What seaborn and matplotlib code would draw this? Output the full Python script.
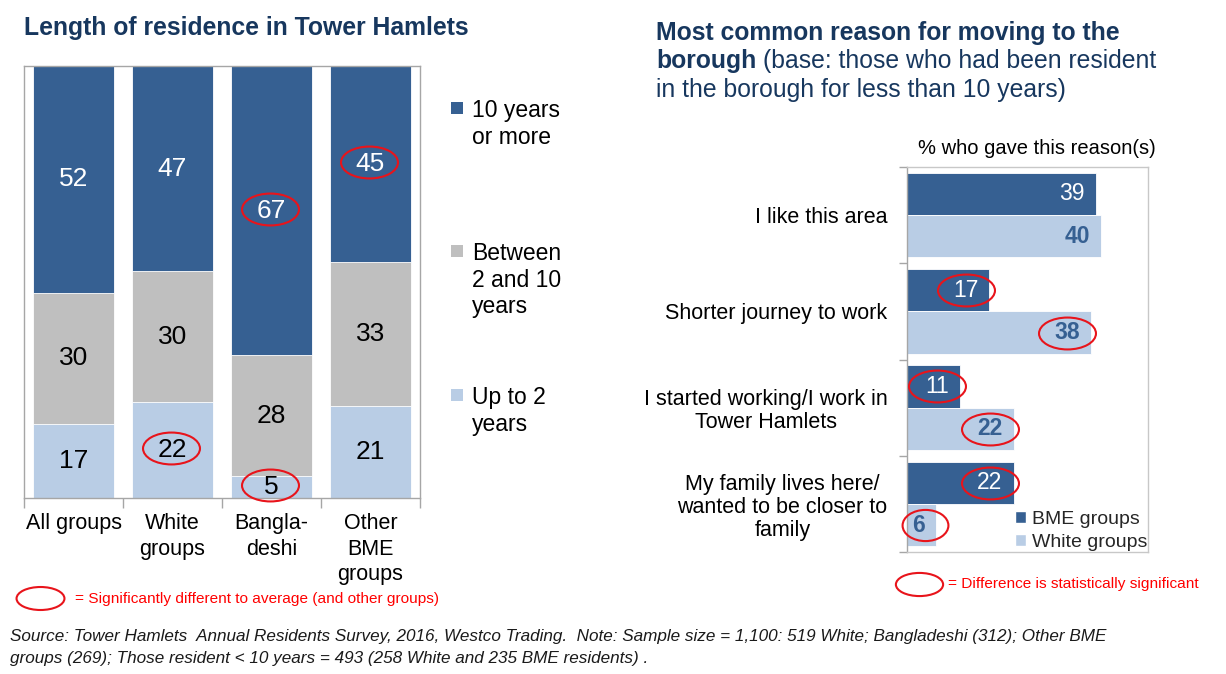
import matplotlib
matplotlib.use("Agg")
import matplotlib.pyplot as plt
from matplotlib.path import Path
from matplotlib.transforms import Affine2D
from matplotlib.patches import Rectangle, Patch
import seaborn as sns
import pandas as pd

sns.set_theme(style="white")
plt.rcParams["font.family"] = ["Liberation Sans", "DejaVu Sans"]

# ---- Length of residence in Tower Hamlets (percent of each group) ----
groups = ["All groups", "White\ngroups", "Bangla-\ndeshi", "Other\nBME\ngroups"]
up_to_2 = [17, 22, 5, 21]
between_2_10 = [30, 30, 28, 33]
ten_plus = [52, 47, 67, 45]
band_labels = ["10 years\nor more", "Between\n2 and 10\nyears", "Up to 2\nyears"]
# cells that differ significantly from the average: (band, group index)
residence_sig = [("up", 1), ("up", 2), ("top", 2), ("top", 3)]

# ---- Most common reason for moving to the borough ----
reasons = ["I like this area", "Shorter journey to work",
           "I started working/I work in\nTower Hamlets",
           "My family lives here/\nwanted to be closer to\nfamily"]
bme_pct = [39, 17, 11, 22]
white_pct = [40, 38, 22, 6]
reason_groups = ["BME groups", "White groups"]
bme_sig = [False, True, True, True]
white_sig = [False, True, True, True]

DARK = "#366092"
GREY = "#BFBFBF"
LIGHT = "#B9CDE5"
NAVY = "#17375E"
RED = "#E8141B"
FRAME = "#A6A6A6"

W, H = 1226, 674
fig = plt.figure(figsize=(W / 100, H / 100), dpi=100)


def px_axes(x0, y0, x1, y1):
    return fig.add_axes([x0 / W, 1 - y1 / H, (x1 - x0) / W, (y1 - y0) / H])


def ellipse_path(ratio):
    return Path.unit_circle().transformed(Affine2D().scale(1.0, ratio))


# ================= left: 100% stacked columns =================
ax1 = px_axes(24, 66, 420, 498)
res = pd.DataFrame({"group": groups, "up": up_to_2, "mid": between_2_10, "top": ten_plus})
total = res[["up", "mid", "top"]].sum(axis=1)
res["c_up"] = res["up"] / total * 100
res["c_mid"] = (res["up"] + res["mid"]) / total * 100
res["c_top"] = (res["up"] + res["mid"] + res["top"]) / total * 100

for col, colr in [("c_top", DARK), ("c_mid", GREY), ("c_up", LIGHT)]:
    sns.barplot(data=res, x="group", y=col, color=colr, width=0.82, errorbar=None,
                saturation=1, ax=ax1, edgecolor="white", linewidth=0.6)

ax1.set_xlim(-0.5, 3.5)
ax1.set_ylim(0, 100)
ax1.set_xlabel("")
ax1.set_ylabel("")
ax1.set_yticks([])
ax1.set_xticks(range(len(groups)))
ax1.set_xticklabels(groups, fontsize=15.5, color="black", linespacing=1.27)
ax1.set_xticks([i - 0.5 for i in range(len(groups) + 1)], minor=True)
ax1.tick_params(axis="x", which="major", length=0, pad=11)
ax1.tick_params(axis="x", which="minor", length=7, width=1, color=FRAME, direction="out", bottom=True)
for sp in ax1.spines.values():
    sp.set_color(FRAME)
    sp.set_linewidth(1)

seg_text = {}
for i in range(len(groups)):
    lo = 0.0
    for key, ckey, tcol in [("up", "c_up", "black"), ("mid", "c_mid", "black"), ("top", "c_top", "white")]:
        hi = res.loc[i, ckey]
        seg_text[(key, i)] = ax1.text(i, (lo + hi) / 2, str(res.loc[i, key]), ha="center", va="center",
                                      fontsize=19, color=tcol)
        lo = hi

# left legend
legend_rows = [(108, band_labels[0], DARK), (251, band_labels[1], GREY), (395, band_labels[2], LIGHT)]
for y, lab, c in legend_rows:
    fig.patches.append(Rectangle((451 / W, 1 - (y + 6) / H), 12 / W, 12 / H,
                                 transform=fig.transFigure, facecolor=c, edgecolor="none"))
    fig.text(472 / W, 1 - (y - 9) / H, lab, fontsize=16.5, color="black", va="top", ha="left",
             linespacing=1.2)

# ================= right: grouped horizontal bars =================
ax2 = px_axes(907, 167, 1148, 552)
long = pd.DataFrame({
    "reason": reasons * 2,
    "pct": bme_pct + white_pct,
    "group": [reason_groups[0]] * len(reasons) + [reason_groups[1]] * len(reasons),
})
sns.barplot(data=long, y="reason", x="pct", hue="group", orient="h", palette=[DARK, LIGHT],
            width=0.88, saturation=1, errorbar=None, ax=ax2, edgecolor="white", linewidth=0.6)
if ax2.get_legend() is not None:
    ax2.get_legend().remove()
ax2.set_xlim(0, 49.7)
ax2.set_ylim(len(reasons) - 0.5, -0.5)
ax2.set_xlabel("")
ax2.set_ylabel("")
ax2.set_xticks([])
ax2.set_yticks(range(len(reasons)))
ax2.set_yticklabels(reasons, fontsize=15.5, color="black", linespacing=1.12)
for lbl in ax2.get_yticklabels():
    lbl.set_multialignment("center")
ax2.set_yticks([i - 0.5 for i in range(len(reasons) + 1)], minor=True)
ax2.tick_params(axis="y", which="major", length=0, pad=14)
ax2.tick_params(axis="y", which="minor", length=6, width=1, color=FRAME, direction="out", left=True)
for sp in ax2.spines.values():
    sp.set_color("#C8C8C8")
    sp.set_linewidth(1)
ax2.spines["left"].set_color(FRAME)

bar_text = {}
for k, cont in enumerate(ax2.containers[:2]):
    for j, p in enumerate(cont.patches):
        v = p.get_width()
        yc = p.get_y() + p.get_height() / 2
        if k == 0:
            t = ax2.annotate(f"{v:.0f}", (v, yc), xytext=(-8, 0), textcoords="offset points",
                             ha="right", va="center", fontsize=16.5, color="white")
        else:
            t = ax2.annotate(f"{v:.0f}", (v, yc), xytext=(-8, 0), textcoords="offset points",
                             ha="right", va="center", fontsize=16.5, color=DARK, fontweight="bold")
        bar_text[(k, j)] = t

handles = [Patch(facecolor=DARK, label=reason_groups[0]), Patch(facecolor=LIGHT, label=reason_groups[1])]
ax2.legend(handles=handles, loc="lower right", bbox_to_anchor=(1.0, 0.0), frameon=False,
           fontsize=14, handlelength=0.55, handleheight=0.55, handletextpad=0.3,
           labelspacing=0.32, borderpad=0, borderaxespad=0.05)

# ================= titles and notes =================
TITLE_SIZE = 17.8
fig.text(24 / W, 1 - 35 / H, "Length of residence in Tower Hamlets", fontsize=TITLE_SIZE,
         fontweight="bold", color=NAVY, va="baseline", ha="left")
fig.text(656 / W, 1 - 40 / H, "Most common reason for moving to the", fontsize=TITLE_SIZE,
         fontweight="bold", color=NAVY, va="baseline", ha="left")
t_bor = fig.text(656 / W, 1 - 68 / H, "borough", fontsize=TITLE_SIZE, fontweight="bold",
                 color=NAVY, va="baseline", ha="left")
fig.text(656 / W, 1 - 97 / H, "in the borough for less than 10 years)", fontsize=TITLE_SIZE,
         color=NAVY, va="baseline", ha="left")
fig.text(1037 / W, 1 - 149 / H, "% who gave this reason(s)", fontsize=14.5, color="black",
         ha="center", va="center")

fig.text(75 / W, 1 - 599 / H, "= Significantly different to average (and other groups)",
         fontsize=11.1, color="#FF0000", va="center", ha="left")
fig.text(948 / W, 1 - 584 / H, "= Difference is statistically significant",
         fontsize=11.1, color="#FF0000", va="center", ha="left")

fig.text(10 / W, 1 - 637 / H,
         "Source: Tower Hamlets  Annual Residents Survey, 2016, Westco Trading.  Note: Sample size = 1,100: "
         "519 White; Bangladeshi (312); Other BME",
         fontsize=12.3, style="italic", color="#1A1A1A", va="center", ha="left")
fig.text(10 / W, 1 - 659 / H,
         "groups (269); Those resident < 10 years = 493 (258 White and 235 BME residents) .",
         fontsize=12.3, style="italic", color="#1A1A1A", va="center", ha="left")

# ================= significance rings =================
fig.canvas.draw()
renderer = fig.canvas.get_renderer()
t_bb = t_bor.get_window_extent(renderer)
fig.text((t_bb.x1 + 7) / W, 1 - 68 / H, "(base: those who had been resident", fontsize=TITLE_SIZE,
         color=NAVY, va="baseline", ha="left")


def ring_at(ax, text, width_pt, ratio, dx=0, dy=0):
    bb = text.get_window_extent(renderer)
    cx, cy = (bb.x0 + bb.x1) / 2 + dx, (bb.y0 + bb.y1) / 2 + dy
    x, y = ax.transData.inverted().transform((cx, cy))
    ax.plot([x], [y], marker=ellipse_path(ratio), markersize=width_pt, mfc="none",
            mec=RED, mew=1.5, clip_on=False, zorder=5)


for key, i in residence_sig:
    ring_at(ax1, seg_text[(key, i)], 41, 0.56, dx=-2, dy=2)

for k, flags in enumerate([bme_sig, white_sig]):
    for j, flag in enumerate(flags):
        if flag:
            t = bar_text[(k, j)]
            if len(t.get_text()) > 1:
                ring_at(ax2, t, 41, 0.56)
            else:
                ring_at(ax2, t, 33, 0.68, dx=6)

# key rings beside the notes
fig.lines.append(plt.Line2D([40 / W], [1 - 598 / H], transform=fig.transFigure,
                            marker=ellipse_path(0.48), markersize=34.5, mfc="none",
                            mec=RED, mew=1.5, linestyle="none"))
fig.lines.append(plt.Line2D([919 / W], [1 - 584 / H], transform=fig.transFigure,
                            marker=ellipse_path(0.49), markersize=34, mfc="none",
                            mec=RED, mew=1.5, linestyle="none"))

fig.savefig("out.png", dpi=100)
